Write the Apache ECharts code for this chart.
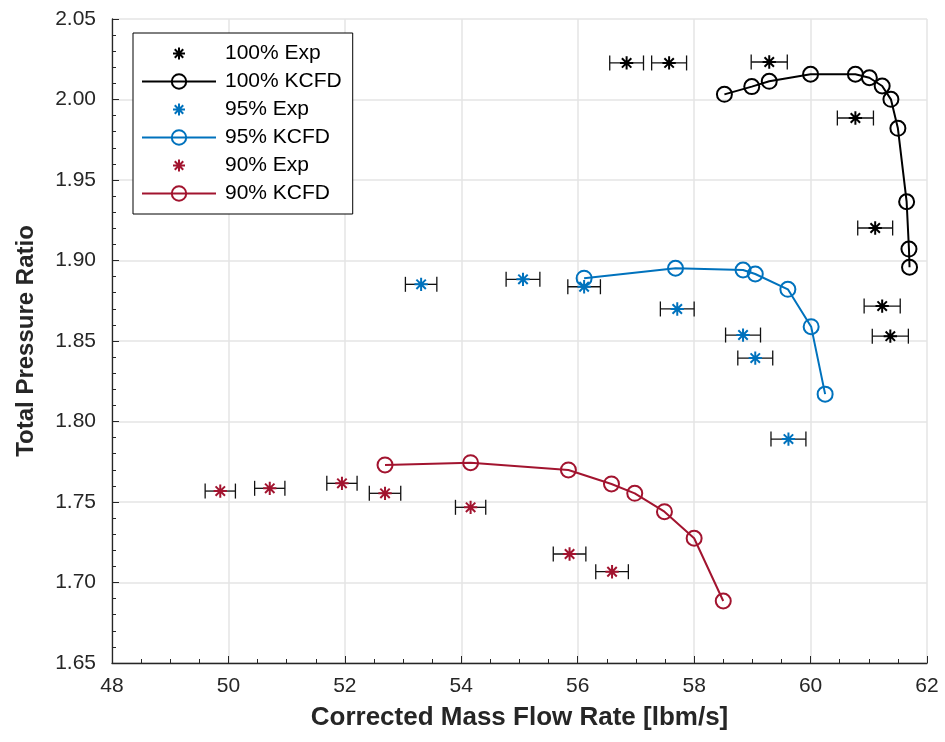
<!DOCTYPE html>
<html>
<head>
<meta charset="utf-8">
<title>Total Pressure Ratio vs Corrected Mass Flow Rate</title>
<script src="https://cdn.jsdelivr.net/npm/echarts@6/dist/echarts.min.js"></script>
<style>
  html, body { margin: 0; padding: 0; background: #fff; }
  #chart { width: 945px; height: 742px; }
</style>
</head>
<body>
<div id="chart"></div>
<script>
// Axis ranges
const xMin = 48, xMax = 62, xStep = 2;
const yMin = 1.65, yMax = 2.05, yStep = 0.05;

// 100% speed line: experiment (with mass-flow uncertainty) and KCFD prediction
const exp100X   = [56.84, 57.57, 59.29, 60.77, 61.11, 61.23, 61.37];
const exp100Y   = [2.0227, 2.0227, 2.0233, 1.9885, 1.9202, 1.8717, 1.8530];
const exp100Err = [0.29, 0.30, 0.31, 0.31, 0.30, 0.31, 0.31];
const kcfd100X  = [58.52, 58.99, 59.29, 60.00, 60.77, 61.01, 61.23, 61.38, 61.50, 61.65, 61.69, 61.70];
const kcfd100Y  = [2.0032, 2.0080, 2.0113, 2.0157, 2.0157, 2.0135, 2.0084, 2.0001, 1.9821, 1.9365, 1.9071, 1.8958];

// 95% speed line
const exp95X    = [53.31, 55.06, 56.11, 57.71, 58.84, 59.05, 59.62];
const exp95Y    = [1.8852, 1.8883, 1.8837, 1.8699, 1.8537, 1.8394, 1.7891];
const exp95Err  = [0.27, 0.29, 0.28, 0.29, 0.30, 0.30, 0.30];
const kcfd95X   = [56.11, 57.68, 58.84, 59.05, 59.61, 60.01, 60.25];
const kcfd95Y   = [1.8890, 1.8952, 1.8941, 1.8916, 1.8821, 1.8589, 1.8170];

// 90% speed line
const exp90X    = [49.86, 50.71, 51.95, 52.69, 54.16, 55.86, 56.59];
const exp90Y    = [1.7568, 1.7585, 1.7616, 1.7554, 1.7467, 1.7177, 1.7067];
const exp90Err  = [0.26, 0.26, 0.26, 0.27, 0.26, 0.28, 0.28];
const kcfd90X   = [52.69, 54.16, 55.84, 56.58, 56.98, 57.49, 58.00, 58.50];
const kcfd90Y   = [1.7730, 1.7744, 1.7699, 1.7612, 1.7554, 1.7440, 1.7275, 1.6885];

const seriesNames = ['100% Exp', '100% KCFD', '95% Exp', '95% KCFD', '90% Exp', '90% KCFD'];

const BLACK = '#000000';
const BLUE = '#0072BD';
const RED = '#A2142F';
const FONT = '"Liberation Sans", Arial, Helvetica, sans-serif';

// Eight-armed asterisk; the trailing moves pad the symbol box so the arms take 2/3 of it
const ASTERISK = 'path://M9,3L9,15M3,9L15,9M4.76,4.76L13.24,13.24M4.76,13.24L13.24,4.76M0,0M18,18';

const zip = (xs, ys) => xs.map((x, i) => [x, ys[i]]);
const zip3 = (xs, ys, es) => xs.map((x, i) => [x, ys[i], es[i]]);

function errorBarSeries(name, xs, ys, es) {
  return {
    name: name,
    type: 'custom',
    z: 2,
    silent: true,
    encode: { x: 0, y: 1 },
    data: zip3(xs, ys, es),
    renderItem: function (params, api) {
      const x = api.value(0), y = api.value(1), e = api.value(2);
      const lo = api.coord([x - e, y]);
      const hi = api.coord([x + e, y]);
      const h = 7.5;
      const st = { stroke: '#111', lineWidth: 1.3 };
      return {
        type: 'group',
        children: [
          { type: 'line', shape: { x1: lo[0], y1: lo[1], x2: hi[0], y2: hi[1] }, style: st },
          { type: 'line', shape: { x1: lo[0], y1: lo[1] - h, x2: lo[0], y2: lo[1] + h }, style: st },
          { type: 'line', shape: { x1: hi[0], y1: hi[1] - h, x2: hi[0], y2: hi[1] + h }, style: st }
        ]
      };
    }
  };
}

function expSeries(name, xs, ys, color) {
  return {
    name: name,
    type: 'scatter',
    z: 3,
    symbol: ASTERISK,
    symbolSize: 20,
    symbolKeepAspect: true,
    itemStyle: { color: 'rgba(0,0,0,0)', borderColor: color, borderWidth: 2, opacity: 1 },
    data: zip(xs, ys)
  };
}

function kcfdSeries(name, xs, ys, color) {
  return {
    name: name,
    type: 'line',
    z: 4,
    symbol: 'circle',
    symbolSize: 15,
    showAllSymbol: true,
    lineStyle: { color: color, width: 2 },
    itemStyle: { color: 'rgba(255,255,255,0)', borderColor: color, borderWidth: 2 },
    emphasis: { disabled: true },
    data: zip(xs, ys)
  };
}

const chart = echarts.init(document.getElementById('chart'), null, { renderer: 'canvas' });

chart.setOption({
  animation: false,
  backgroundColor: '#ffffff',
  textStyle: { fontFamily: FONT },
  grid: { left: 112, right: 18, top: 19, bottom: 79, containLabel: false },
  legend: {
    data: seriesNames,
    orient: 'vertical',
    left: 133,
    top: 33,
    itemWidth: 74,
    itemHeight: 18,
    itemGap: 7,
    padding: [10, 11, 10, 8],
    backgroundColor: '#ffffff',
    borderColor: '#000000',
    borderWidth: 1,
    selectedMode: false,
    textStyle: { fontFamily: FONT, fontSize: 21, color: '#000', padding: [0, 0, 0, 4], lineHeight: 21 }
  },
  xAxis: {
    type: 'value',
    min: xMin,
    max: xMax,
    interval: xStep,
    name: 'Corrected Mass Flow Rate [lbm/s]',
    nameLocation: 'middle',
    nameGap: 42,
    nameTextStyle: { fontFamily: FONT, fontSize: 26, fontWeight: 'bold', color: '#262626' },
    axisLine: { show: true, onZero: false, lineStyle: { color: '#262626', width: 1.3 } },
    axisTick: { show: true, inside: true, length: 7, lineStyle: { color: '#262626', width: 1 } },
    minorTick: { show: true, splitNumber: 4, length: 4, lineStyle: { color: '#262626', width: 1 } },
    axisLabel: { fontFamily: FONT, fontSize: 21, color: '#262626', margin: 13 },
    splitLine: { show: true, lineStyle: { color: '#e4e4e4', width: 1.5 } }
  },
  yAxis: {
    type: 'value',
    min: yMin,
    max: yMax,
    interval: yStep,
    name: 'Total Pressure Ratio',
    nameLocation: 'middle',
    nameGap: 74,
    nameTextStyle: { fontFamily: FONT, fontSize: 24, fontWeight: 'bold', color: '#262626' },
    axisLine: { show: true, onZero: false, lineStyle: { color: '#262626', width: 1.3 } },
    axisTick: { show: true, inside: true, length: 7, lineStyle: { color: '#262626', width: 1 } },
    minorTick: { show: true, splitNumber: 5, length: 4, lineStyle: { color: '#262626', width: 1 } },
    axisLabel: {
      fontFamily: FONT, fontSize: 21, color: '#262626', margin: 16,
      formatter: v => v.toFixed(2)
    },
    splitLine: { show: true, lineStyle: { color: '#e4e4e4', width: 1.5 } }
  },
  series: [
    errorBarSeries('100% Exp error', exp100X, exp100Y, exp100Err),
    expSeries('100% Exp', exp100X, exp100Y, BLACK),
    kcfdSeries('100% KCFD', kcfd100X, kcfd100Y, BLACK),
    errorBarSeries('95% Exp error', exp95X, exp95Y, exp95Err),
    expSeries('95% Exp', exp95X, exp95Y, BLUE),
    kcfdSeries('95% KCFD', kcfd95X, kcfd95Y, BLUE),
    errorBarSeries('90% Exp error', exp90X, exp90Y, exp90Err),
    expSeries('90% Exp', exp90X, exp90Y, RED),
    kcfdSeries('90% KCFD', kcfd90X, kcfd90Y, RED)
  ]
});
</script>
</body>
</html>
